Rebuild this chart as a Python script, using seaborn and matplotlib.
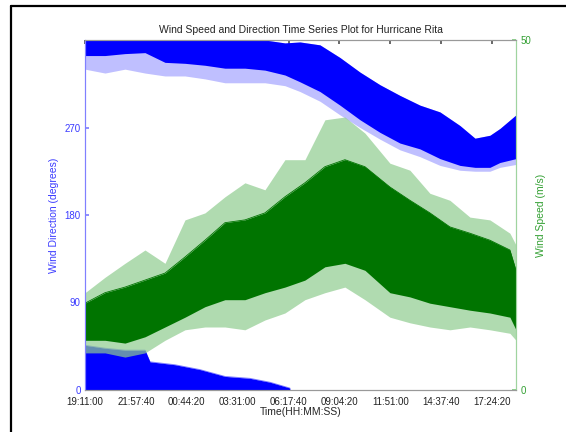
import numpy as np
import pandas as pd
import matplotlib
matplotlib.use("Agg")
import matplotlib.pyplot as plt
from matplotlib.lines import Line2D
import seaborn as sns

# sample times, seconds after 19:11:00
t_speed = [0, 3930, 7860, 11790, 15720, 19650, 23580, 27500, 31430, 35360, 39290,
           43220, 47150, 51080, 55010, 59920, 63850, 67780, 71710, 75640, 79570,
           83500, 84700]
# wind speed (m/s): dense core and extent of the spikes
speed_core_hi = [12.4, 13.9, 14.7, 15.7, 16.7, 19.0, 21.4, 23.9, 24.3, 25.3, 27.6,
                 29.6, 31.9, 32.9, 31.9, 29.0, 27.1, 25.3, 23.3, 22.4, 21.4, 20.0, 17.1]
speed_core_lo = [7.1, 7.1, 6.7, 7.6, 9.0, 10.4, 11.9, 12.9, 12.9, 13.9, 14.7,
                 15.7, 17.6, 18.1, 17.1, 13.9, 13.3, 12.4, 11.9, 11.4, 11.0, 10.4, 8.6]
speed_spike_hi = [13.9, 16.1, 18.1, 20.0, 18.1, 24.3, 25.3, 27.6, 29.6, 28.6, 32.9,
                  32.9, 38.6, 39.0, 36.7, 32.4, 31.4, 28.1, 27.1, 24.7, 24.3, 22.4, 20.7]
speed_spike_lo = [5.3, 5.3, 4.7, 5.3, 7.1, 8.6, 9.0, 9.0, 8.6, 10.0, 11.0,
                  12.9, 13.9, 14.7, 12.9, 10.4, 9.6, 9.0, 8.6, 9.0, 8.6, 8.1, 7.1]

# wind direction (degrees), upper band
t_dir = [0, 3930, 7860, 11790, 15720, 19650, 23580, 27500, 31430, 35360, 39290,
         42240, 46170, 50100, 54030, 57960, 61890, 65820, 69760, 73690, 76640,
         79570, 81540, 84700]
dir_top = [360, 360, 360, 360, 360, 360, 360, 360, 360, 360, 357,
           358, 355, 342, 327, 314, 303, 293, 286, 272, 259, 262, 269, 283]
dir_bottom = [344, 344, 346, 347, 337, 336, 334, 331, 331, 329, 324,
              317, 307, 293, 278, 265, 254, 248, 238, 231, 229, 229, 234, 238]
dir_scatter = [330, 326, 330, 326, 323, 323, 320, 316, 316, 316, 313,
               307, 297, 283, 270, 258, 247, 240, 231, 226, 225, 225, 229, 232]

# wind direction wrapped round to just above 0
t_low = [0, 3930, 7860, 11790, 12770, 17680, 22600, 27500, 32420, 36350, 40270]
dir_low = [46, 43, 41, 41, 29, 26, 21, 14, 12, 8, 2]

tick_secs = [0, 10000, 20000, 30000, 40000, 50000, 60000, 70000, 80000]
tick_labels = ["19:11:00", "21:57:40", "00:44:20", "03:31:00", "06:17:40",
               "09:04:20", "11:51:00", "14:37:40", "17:24:20"]

sns.set_theme(style="white")
plt.rcParams['font.family'] = ['Liberation Sans', 'DejaVu Sans']

blue = "#0000ff"
green = "#007400"
light_green = "#8fcc8f"

fig = plt.figure(figsize=(5.66, 4.32), dpi=100)
ax = fig.add_axes([85 / 566, 42 / 432, 431 / 566, 350 / 432])

speed = pd.DataFrame({"t": t_speed, "hi": speed_core_hi, "lo": speed_core_lo,
                      "shi": speed_spike_hi, "slo": speed_spike_lo})
direction = pd.DataFrame({"t": t_dir, "top": dir_top, "bottom": dir_bottom,
                          "scatter": dir_scatter})

# direction (left axis)
ax.fill_between(direction["t"], direction["scatter"], direction["top"],
                color=blue, alpha=0.25, lw=0)
ax.fill_between(direction["t"], direction["bottom"], direction["top"],
                color=blue, lw=0)
ax.fill_between(t_low, 0, dir_low, color=blue, lw=0)
sns.lineplot(x=t_low, y=dir_low, ax=ax, color=blue, lw=0.6, alpha=0.5)
ax.set_xlim(0, 84700)
ax.set_ylim(0, 360)
ax.set_yticks([0, 90, 180, 270])
ax.set_xticks(tick_secs)
ax.set_xticklabels(tick_labels)
ax.set_ylabel("Wind Direction (degrees)", color="#3b3bff", fontsize=7.5, labelpad=4)
ax.tick_params(axis="x", direction="in", length=3, labelsize=7, pad=5,
               top=True, color="#555555", colors="#222222")
ax.tick_params(axis="y", direction="in", length=3, labelsize=7, pad=3,
               color="#8080ff", labelcolor="#3b3bff")
ax.set_title("Wind Speed and Direction Time Series Plot for Hurricane Rita",
             fontsize=7.5, pad=5, color="#222222")

# speed (right axis)
ax2 = ax.twinx()
ax2.fill_between(speed["t"], speed["slo"], speed["shi"], color=light_green,
                 alpha=0.7, lw=0)
ax2.fill_between(speed["t"], speed["lo"], speed["hi"], color=green, lw=0)
sns.lineplot(data=speed, x="t", y="hi", ax=ax2, color=green, lw=0.6)
ax2.set_ylim(0, 50)
ax2.set_yticks([0, 50])
ax2.set_xlim(0, 84700)
ax2.set_ylabel("Wind Speed (m/s)", color="#33a033", fontsize=7.5, labelpad=4)
ax2.tick_params(axis="y", direction="in", length=3, labelsize=7, pad=3,
                color="#80c880", labelcolor="#33a033")

for a in (ax, ax2):
    a.spines["top"].set_color("#999999")
    a.spines["bottom"].set_color("#999999")
    a.spines["left"].set_color("#8080ff")
    a.spines["right"].set_color("#9fd49f")
    for s in a.spines.values():
        s.set_linewidth(0.8)
ax.set_xlabel("Time(HH:MM:SS)", fontsize=7.5, labelpad=0)

# outer frame of the screenshot
fig.add_artist(Line2D([11 / 566, 11 / 566], [0, 1 - 6 / 432], color="black",
                      lw=1.6, transform=fig.transFigure))
fig.add_artist(Line2D([11 / 566, 1], [1 - 6 / 432, 1 - 6 / 432], color="black",
                      lw=1.6, transform=fig.transFigure))

fig.savefig("out.png", dpi=100)
